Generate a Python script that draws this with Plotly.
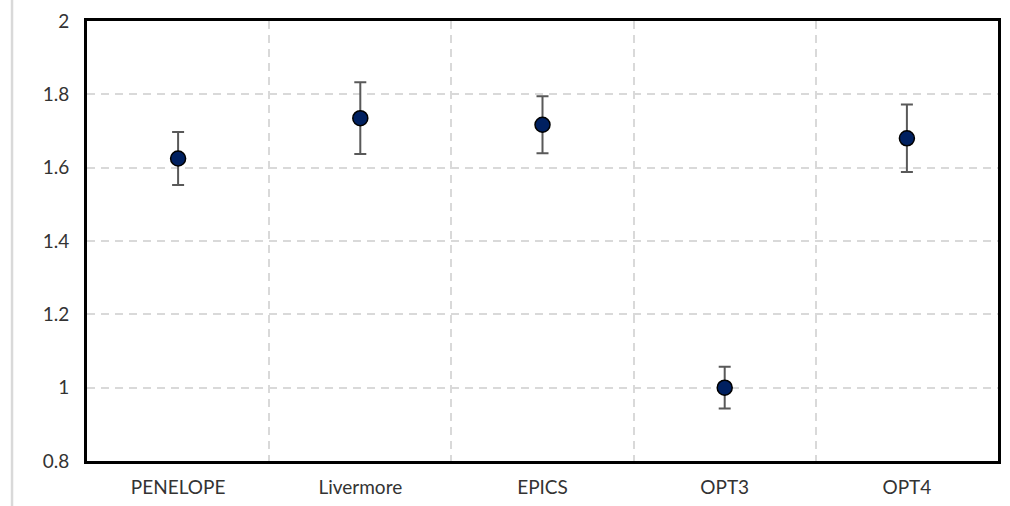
import plotly.graph_objects as go

categories = ["PENELOPE", "Livermore", "EPICS", "OPT3", "OPT4"]
values = [1.625, 1.735, 1.717, 1.0, 1.68]
errors = [0.072, 0.098, 0.078, 0.057, 0.092]
y_ticks = [0.8, 1.0, 1.2, 1.4, 1.6, 1.8, 2.0]
y_ticklabels = ["0.8", "1", "1.2", "1.4", "1.6", "1.8", "2"]

fig = go.Figure()
fig.add_trace(go.Scatter(
    x=categories, y=values, mode="markers",
    marker=dict(color="#002060", size=15, line=dict(color="#000000", width=1.5)),
    error_y=dict(type="data", array=errors, visible=True, color="#595959", thickness=2, width=6),
    showlegend=False,
))

font = dict(family="Lato, 'Open Sans', sans-serif", size=19, color="#333333")
grid = dict(showgrid=True, gridcolor="#d9d9d9", gridwidth=1.5, griddash="8px,6px")

fig.update_layout(
    width=1010, height=506,
    margin=dict(l=87, r=12, t=21, b=45),
    paper_bgcolor="white", plot_bgcolor="white",
    font=font,
    xaxis=dict(
        type="category", range=[-0.5, 4.5], tickson="boundaries", ticks="",
        showline=True, linecolor="black", linewidth=3, mirror=True,
        ticklabelstandoff=7, zeroline=False, automargin=False, **grid,
    ),
    yaxis=dict(
        range=[0.8, 2.0], tickvals=y_ticks, ticktext=y_ticklabels, ticks="",
        showline=True, linecolor="black", linewidth=3, mirror=True,
        ticklabelstandoff=11, zeroline=False, automargin=False, **grid,
    ),
    shapes=[dict(type="line", xref="paper", yref="paper",
                 x0=-0.0823, x1=-0.0823, y0=-0.11, y1=1.05,
                 line=dict(color="#d9d9d9", width=2.5))],
)

fig.write_html("out.html")
